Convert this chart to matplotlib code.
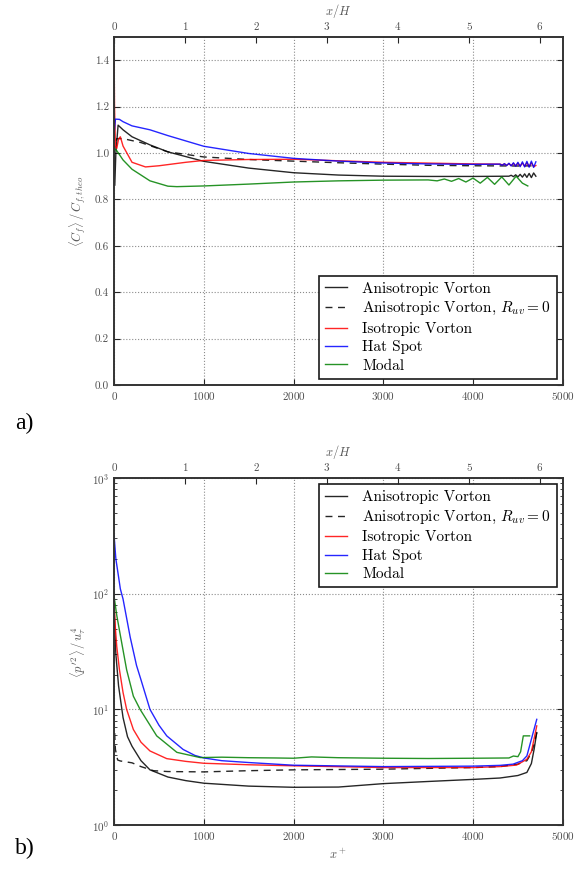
import matplotlib
matplotlib.use("Agg")
import matplotlib.pyplot as plt

plt.rcParams.update({
    "font.family": "serif",
    "font.serif": ["cmr10", "DejaVu Serif"],
    "mathtext.fontset": "cm",
    "axes.formatter.use_mathtext": True,
    "xtick.direction": "in",
    "ytick.direction": "in",
    "xtick.top": True,
    "ytick.right": True,
    "xtick.labelsize": 8,
    "ytick.labelsize": 8,
    "xtick.color": "0.15",
    "ytick.color": "0.15",
    "xtick.labelcolor": "0.3",
    "ytick.labelcolor": "0.3",
    "xtick.major.size": 4,
    "ytick.major.size": 4,
    "ytick.minor.size": 2,
    "axes.linewidth": 1.2,
    "axes.edgecolor": "0.2",
})

H_PLUS = 791.0  # x+ units per channel height

labels = ["Anisotropic Vorton", r"Anisotropic Vorton, $R_{uv}=0$",
          "Isotropic Vorton", "Hat Spot", "Modal"]

# ---- panel a: <Cf>/Cf,theo ----
cf_aniso_x = [0, 8, 20, 45, 100, 200, 400, 600, 1000, 1500, 2000, 2500, 3000, 3500, 4000, 4400,
              4425, 4450, 4475, 4500, 4525, 4550, 4575, 4600, 4625, 4650, 4675, 4700]
cf_aniso_y = [1.03, 0.86, 1.00, 1.12, 1.10, 1.07, 1.035, 1.005, 0.964, 0.935, 0.915, 0.905, 0.900, 0.899, 0.899, 0.900,
              0.904, 0.898, 0.906, 0.897, 0.908, 0.896, 0.910, 0.895, 0.912, 0.894, 0.914, 0.900]

cf_aniso0_x = [0, 15, 30, 100, 300, 600, 1000, 1500, 2000, 2500, 3000, 3500, 4000, 4500, 4700]
cf_aniso0_y = [1.00, 1.04, 1.062, 1.062, 1.045, 1.005, 0.983, 0.972, 0.965, 0.958, 0.952, 0.947, 0.945, 0.944, 0.945]

cf_iso_x = [0, 5, 15, 30, 50, 70, 100, 200, 350, 500, 800, 1000, 1500, 2000, 3000, 4000, 4300,
            4325, 4350, 4375, 4400, 4425, 4450, 4475, 4500, 4525, 4550, 4575, 4600, 4625, 4650, 4675, 4700]
cf_iso_y = [1.45, 1.20, 1.03, 1.02, 1.06, 1.07, 1.03, 0.96, 0.940, 0.945, 0.960, 0.968, 0.972, 0.973, 0.960, 0.953, 0.952,
            0.949, 0.953, 0.947, 0.954, 0.946, 0.955, 0.945, 0.956, 0.944, 0.957, 0.943, 0.958, 0.942, 0.958, 0.941, 0.946]

cf_hat_x = [0, 15, 60, 100, 200, 400, 600, 1000, 1500, 2000, 2500, 3000, 3500, 4000, 4300,
            4325, 4350, 4375, 4400, 4425, 4450, 4475, 4500, 4525, 4550, 4575, 4600, 4625, 4650, 4675, 4700]
cf_hat_y = [1.08, 1.146, 1.145, 1.135, 1.117, 1.100, 1.075, 1.029, 0.998, 0.977, 0.965, 0.957, 0.953, 0.951, 0.952,
            0.947, 0.954, 0.946, 0.956, 0.944, 0.958, 0.943, 0.960, 0.941, 0.962, 0.940, 0.964, 0.939, 0.965, 0.938, 0.962]

cf_modal_x = [0, 30, 100, 200, 400, 600, 700, 1000, 1500, 2000, 2500, 3000, 3500, 3600, 3680, 3760, 3840,
              3920, 4000, 4080, 4160, 4240, 4320, 4400, 4480, 4550, 4610]
cf_modal_y = [1.02, 1.01, 0.97, 0.93, 0.88, 0.857, 0.855, 0.858, 0.866, 0.875, 0.880, 0.883, 0.884, 0.880, 0.888, 0.878, 0.890,
              0.875, 0.892, 0.870, 0.895, 0.865, 0.897, 0.862, 0.900, 0.870, 0.858]

# ---- panel b: <p'^2>/u_tau^4 ----
pp_aniso_x = [0, 10, 20, 50, 100, 150, 200, 300, 400, 600, 800, 1000, 1500, 2000, 2500, 3000, 3500, 4000,
              4300, 4500, 4600, 4650, 4680, 4710]
pp_aniso_y = [80, 45, 30, 16, 8.5, 5.8, 4.8, 3.6, 3.0, 2.6, 2.42, 2.3, 2.17, 2.12, 2.13, 2.28, 2.38, 2.48,
              2.55, 2.68, 2.85, 3.4, 4.5, 6.3]

pp_aniso0_x = [0, 15, 40, 70, 200, 300, 440, 600, 1000, 1500, 2000, 3000, 4000, 4300, 4500, 4600, 4650, 4680, 4710]
pp_aniso0_y = [8.0, 4.5, 3.65, 3.58, 3.45, 3.2, 2.95, 2.9, 2.88, 2.95, 3.0, 3.04, 3.14, 3.2, 3.36, 3.6, 4.2, 5.0, 6.3]

pp_iso_x = [0, 15, 30, 60, 100, 140, 215, 300, 400, 587, 800, 1000, 1500, 2000, 3000, 4000, 4300, 4485,
            4600, 4650, 4710]
pp_iso_y = [85, 50, 35, 22, 14, 10, 6.7, 5.2, 4.37, 3.75, 3.55, 3.42, 3.32, 3.25, 3.14, 3.14, 3.2, 3.3,
            3.7, 4.3, 7.2]

pp_hat_x = [0, 20, 50, 70, 100, 180, 250, 300, 400, 500, 587, 770, 900, 1000, 1200, 1500, 2000, 3000, 4000,
            4300, 4445, 4550, 4600, 4670, 4710]
pp_hat_y = [320, 200, 140, 110, 90, 42, 24, 18, 10, 7.3, 5.9, 4.5, 4.0, 3.8, 3.6, 3.47, 3.29, 3.2, 3.23,
            3.28, 3.36, 3.6, 3.96, 6.3, 8.2]

pp_modal_x = [0, 30, 67, 140, 215, 290, 475, 700, 960, 1200, 1500, 1800, 2000, 2200, 2500, 3000, 3500, 4000,
              4400, 4450, 4500, 4530, 4560, 4630]
pp_modal_y = [95, 65, 45, 22, 13, 10, 5.9, 4.25, 3.83, 3.86, 3.82, 3.8, 3.78, 3.88, 3.82, 3.78, 3.76, 3.78,
              3.8, 3.95, 3.9, 4.3, 5.9, 5.9]

styles = [dict(color="k", ls="-"), dict(color="k", ls=(0, (5, 4))), dict(color="r", ls="-"),
          dict(color="b", ls="-"), dict(color="g", ls="-")]

fig = plt.figure(figsize=(5.79, 8.75), dpi=100)
ax1 = fig.add_axes([0.197, 0.56, 0.775, 0.3977])
ax2 = fig.add_axes([0.197, 0.0571, 0.775, 0.3966])

cf_data = [(cf_aniso_x, cf_aniso_y), (cf_aniso0_x, cf_aniso0_y), (cf_iso_x, cf_iso_y),
           (cf_hat_x, cf_hat_y), (cf_modal_x, cf_modal_y)]
pp_data = [(pp_aniso_x, pp_aniso_y), (pp_aniso0_x, pp_aniso0_y), (pp_iso_x, pp_iso_y),
           (pp_hat_x, pp_hat_y), (pp_modal_x, pp_modal_y)]

for (x, y), st, lab in zip(cf_data, styles, labels):
    ax1.plot(x, y, lw=1.0, alpha=0.85, label=lab, **st)
for (x, y), st, lab in zip(pp_data, styles, labels):
    ax2.plot(x, y, lw=1.0, alpha=0.85, label=lab, **st)

ax1.set_xlim(0, 5000)
ax1.set_ylim(0, 1.5)
ax1.set_yticks([0.0, 0.2, 0.4, 0.6, 0.8, 1.0, 1.2, 1.4])
ax1.set_yticklabels(["0.0", "0.2", "0.4", "0.6", "0.8", "1.0", "1.2", "1.4"])
ax1.set_ylabel(r"$\langle C_f\rangle\,/\,C_{f,theo}$", fontsize=9, color="0.35")

ax2.set_xlim(0, 5000)
ax2.set_yscale("log")
ax2.set_ylim(1, 1000)
ax2.set_ylabel(r"$\langle p'^2\rangle\,/\,u_\tau^4$", fontsize=9, color="0.35")
ax2.set_xlabel(r"$x^+$", fontsize=9, color="0.35")

for ax in (ax1, ax2):
    ax.set_xticks([0, 1000, 2000, 3000, 4000, 5000])
    ax.grid(True, which="major", linestyle=":", color="0.55", linewidth=0.8)
    ax.yaxis.set_label_coords(-0.058, 0.5)
    top = ax.twiny()
    top.set_xlim(0, 5000 / H_PLUS)
    top.set_xticks([0, 1, 2, 3, 4, 5, 6])
    top.tick_params(direction="in", labelsize=8)
    top.set_xlabel(r"$x/H$", fontsize=9, color="0.35", labelpad=4)

leg_kw = dict(fontsize=11, frameon=True, fancybox=False, framealpha=1, edgecolor="0.1",
              handlelength=1.4, handletextpad=1.0, labelspacing=0.3, borderpad=0.4, borderaxespad=0.4)
l1 = ax1.legend(loc="lower right", **leg_kw)
l2 = ax2.legend(loc="upper right", **leg_kw)
for l in (l1, l2):
    l.get_frame().set_linewidth(1.2)

fig.text(0.026, 1 - 423 / 875, "a)", fontsize=17, family="Liberation Serif", va="center")
fig.text(0.026, 1 - 848 / 875, "b)", fontsize=17, family="Liberation Serif", va="center")

fig.savefig("out.png", dpi=100)
